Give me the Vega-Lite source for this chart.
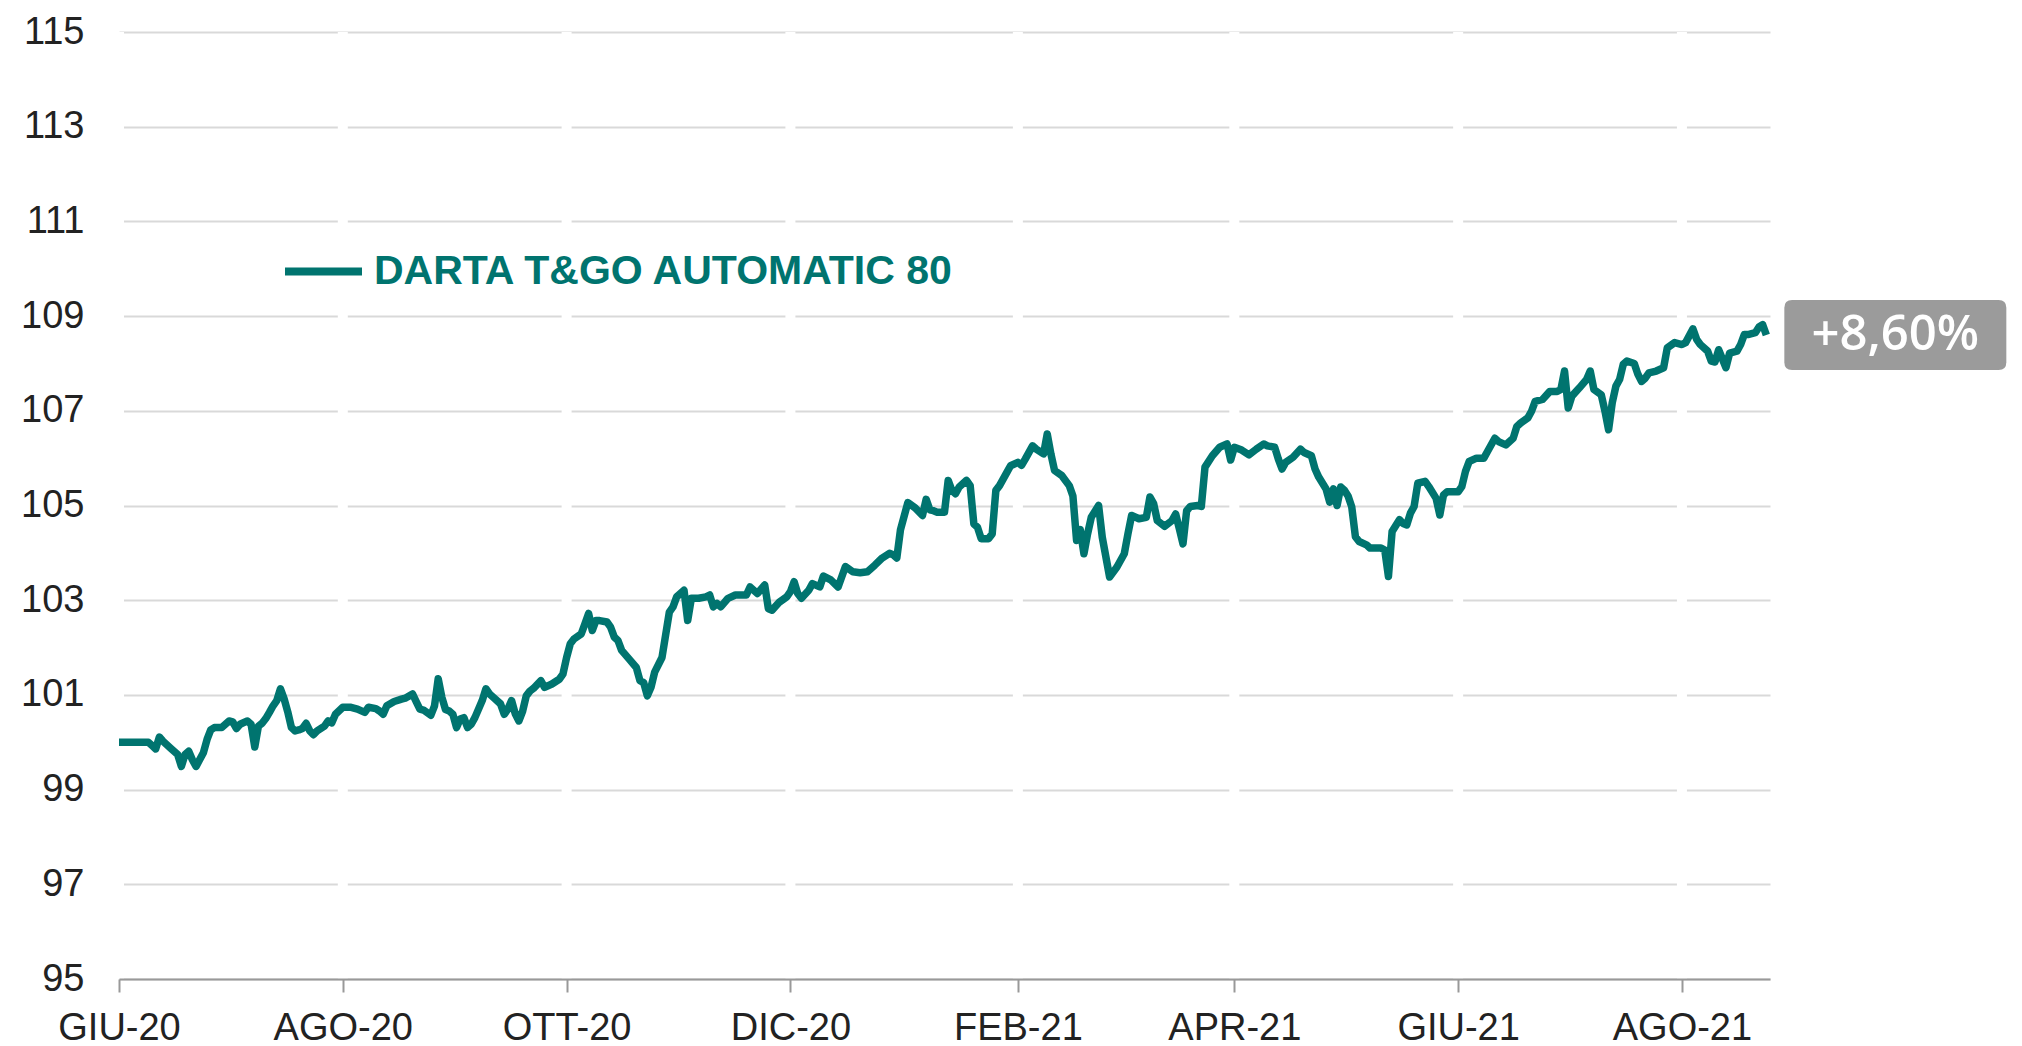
{
 "$schema": "https://vega.github.io/schema/vega-lite/v6.json",
 "width": 1651,
 "height": 947,
 "autosize": {"type": "none"},
 "padding": {"left": 119, "top": 32, "right": 252, "bottom": 67},
 "background": "white",
 "config": {"view": {"stroke": null}, "font": "Liberation Sans"},
 "data": {"values": [
  {"date":"2020-06-01","value":100.0},{"date":"2020-06-09","value":100.0},{"date":"2020-06-10","value":99.93},{"date":"2020-06-11","value":99.86},{"date":"2020-06-12","value":100.11},{"date":"2020-06-13","value":100.02},{"date":"2020-06-15","value":99.88},{"date":"2020-06-16","value":99.81},{"date":"2020-06-17","value":99.74},{"date":"2020-06-18","value":99.49},{"date":"2020-06-19","value":99.74},{"date":"2020-06-20","value":99.81},{"date":"2020-06-21","value":99.63},{"date":"2020-06-22","value":99.49},{"date":"2020-06-24","value":99.78},{"date":"2020-06-25","value":100.06},{"date":"2020-06-26","value":100.26},{"date":"2020-06-27","value":100.31},{"date":"2020-06-29","value":100.31},{"date":"2020-06-30","value":100.38},
  {"date":"2020-07-01","value":100.45},{"date":"2020-07-02","value":100.43},{"date":"2020-07-03","value":100.29},{"date":"2020-07-04","value":100.38},{"date":"2020-07-06","value":100.45},{"date":"2020-07-07","value":100.38},{"date":"2020-07-08","value":99.9},{"date":"2020-07-09","value":100.34},{"date":"2020-07-10","value":100.4},{"date":"2020-07-11","value":100.5},{"date":"2020-07-12","value":100.63},{"date":"2020-07-13","value":100.77},{"date":"2020-07-14","value":100.88},{"date":"2020-07-15","value":101.13},{"date":"2020-07-16","value":100.92},{"date":"2020-07-17","value":100.64},{"date":"2020-07-18","value":100.31},{"date":"2020-07-19","value":100.24},{"date":"2020-07-20","value":100.26},{"date":"2020-07-21","value":100.29},{"date":"2020-07-22","value":100.4},{"date":"2020-07-23","value":100.24},{"date":"2020-07-24","value":100.16},{"date":"2020-07-25","value":100.24},{"date":"2020-07-27","value":100.34},{"date":"2020-07-28","value":100.45},{"date":"2020-07-29","value":100.41},{"date":"2020-07-30","value":100.59},
  {"date":"2020-08-01","value":100.74},{"date":"2020-08-03","value":100.74},{"date":"2020-08-05","value":100.7},{"date":"2020-08-07","value":100.63},{"date":"2020-08-08","value":100.74},{"date":"2020-08-10","value":100.71},{"date":"2020-08-11","value":100.66},{"date":"2020-08-12","value":100.59},{"date":"2020-08-13","value":100.77},{"date":"2020-08-15","value":100.86},{"date":"2020-08-17","value":100.91},{"date":"2020-08-18","value":100.93},{"date":"2020-08-20","value":101.02},{"date":"2020-08-21","value":100.86},{"date":"2020-08-22","value":100.7},{"date":"2020-08-23","value":100.68},{"date":"2020-08-25","value":100.57},{"date":"2020-08-26","value":100.77},{"date":"2020-08-27","value":101.34},{"date":"2020-08-28","value":100.95},{"date":"2020-08-29","value":100.69},{"date":"2020-08-30","value":100.66},{"date":"2020-08-31","value":100.59},
  {"date":"2020-09-01","value":100.31},{"date":"2020-09-02","value":100.49},{"date":"2020-09-03","value":100.52},{"date":"2020-09-04","value":100.31},{"date":"2020-09-05","value":100.38},{"date":"2020-09-06","value":100.52},{"date":"2020-09-08","value":100.88},{"date":"2020-09-09","value":101.13},{"date":"2020-09-10","value":101.02},{"date":"2020-09-11","value":100.95},{"date":"2020-09-13","value":100.81},{"date":"2020-09-14","value":100.59},{"date":"2020-09-15","value":100.7},{"date":"2020-09-16","value":100.88},{"date":"2020-09-17","value":100.6},{"date":"2020-09-18","value":100.45},{"date":"2020-09-19","value":100.65},{"date":"2020-09-20","value":100.98},{"date":"2020-09-21","value":101.08},{"date":"2020-09-22","value":101.14},{"date":"2020-09-24","value":101.3},{"date":"2020-09-25","value":101.16},{"date":"2020-09-27","value":101.23},{"date":"2020-09-29","value":101.33},{"date":"2020-09-30","value":101.44},
  {"date":"2020-10-01","value":101.79},{"date":"2020-10-02","value":102.08},{"date":"2020-10-03","value":102.18},{"date":"2020-10-05","value":102.29},{"date":"2020-10-06","value":102.5},{"date":"2020-10-07","value":102.72},{"date":"2020-10-08","value":102.36},{"date":"2020-10-09","value":102.57},{"date":"2020-10-10","value":102.57},{"date":"2020-10-12","value":102.54},{"date":"2020-10-13","value":102.43},{"date":"2020-10-14","value":102.22},{"date":"2020-10-15","value":102.15},{"date":"2020-10-16","value":101.94},{"date":"2020-10-18","value":101.76},{"date":"2020-10-20","value":101.58},{"date":"2020-10-21","value":101.3},{"date":"2020-10-22","value":101.26},{"date":"2020-10-23","value":100.98},{"date":"2020-10-24","value":101.16},{"date":"2020-10-25","value":101.48},{"date":"2020-10-27","value":101.79},{"date":"2020-10-29","value":102.75},{"date":"2020-10-30","value":102.86},{"date":"2020-10-31","value":103.07},
  {"date":"2020-11-02","value":103.21},{"date":"2020-11-03","value":102.57},{"date":"2020-11-04","value":103.04},{"date":"2020-11-06","value":103.04},{"date":"2020-11-08","value":103.07},{"date":"2020-11-09","value":103.11},{"date":"2020-11-10","value":102.86},{"date":"2020-11-11","value":102.93},{"date":"2020-11-12","value":102.86},{"date":"2020-11-14","value":103.04},{"date":"2020-11-16","value":103.11},{"date":"2020-11-19","value":103.11},{"date":"2020-11-20","value":103.28},{"date":"2020-11-22","value":103.14},{"date":"2020-11-24","value":103.32},{"date":"2020-11-25","value":102.82},{"date":"2020-11-26","value":102.79},{"date":"2020-11-28","value":102.96},{"date":"2020-11-30","value":103.07},
  {"date":"2020-12-01","value":103.18},{"date":"2020-12-02","value":103.39},{"date":"2020-12-03","value":103.14},{"date":"2020-12-04","value":103.04},{"date":"2020-12-06","value":103.21},{"date":"2020-12-07","value":103.35},{"date":"2020-12-09","value":103.28},{"date":"2020-12-10","value":103.51},{"date":"2020-12-12","value":103.43},{"date":"2020-12-14","value":103.28},{"date":"2020-12-16","value":103.71},{"date":"2020-12-18","value":103.6},{"date":"2020-12-20","value":103.58},{"date":"2020-12-22","value":103.6},{"date":"2020-12-24","value":103.74},{"date":"2020-12-26","value":103.89},{"date":"2020-12-28","value":103.99},{"date":"2020-12-29","value":103.96},{"date":"2020-12-30","value":103.89},{"date":"2020-12-31","value":104.49},
  {"date":"2021-01-02","value":105.06},{"date":"2021-01-04","value":104.95},{"date":"2021-01-06","value":104.79},{"date":"2021-01-07","value":105.13},{"date":"2021-01-08","value":104.91},{"date":"2021-01-09","value":104.89},{"date":"2021-01-10","value":104.86},{"date":"2021-01-12","value":104.86},{"date":"2021-01-13","value":105.53},{"date":"2021-01-14","value":105.32},{"date":"2021-01-15","value":105.25},{"date":"2021-01-16","value":105.39},{"date":"2021-01-18","value":105.53},{"date":"2021-01-19","value":105.42},{"date":"2021-01-20","value":104.61},{"date":"2021-01-21","value":104.54},{"date":"2021-01-22","value":104.3},{"date":"2021-01-24","value":104.3},{"date":"2021-01-25","value":104.4},{"date":"2021-01-26","value":105.32},{"date":"2021-01-27","value":105.42},{"date":"2021-01-29","value":105.7},{"date":"2021-01-30","value":105.84},
  {"date":"2021-02-01","value":105.91},{"date":"2021-02-02","value":105.85},{"date":"2021-02-03","value":105.98},{"date":"2021-02-05","value":106.26},{"date":"2021-02-06","value":106.19},{"date":"2021-02-08","value":106.09},{"date":"2021-02-09","value":106.51},{"date":"2021-02-10","value":106.09},{"date":"2021-02-11","value":105.74},{"date":"2021-02-13","value":105.63},{"date":"2021-02-15","value":105.42},{"date":"2021-02-16","value":105.2},{"date":"2021-02-17","value":104.26},{"date":"2021-02-18","value":104.49},{"date":"2021-02-19","value":103.98},{"date":"2021-02-20","value":104.4},{"date":"2021-02-21","value":104.75},{"date":"2021-02-23","value":105.0},{"date":"2021-02-24","value":104.33},{"date":"2021-02-26","value":103.49},{"date":"2021-02-28","value":103.7},
  {"date":"2021-03-02","value":103.98},{"date":"2021-03-03","value":104.4},{"date":"2021-03-04","value":104.79},{"date":"2021-03-06","value":104.72},{"date":"2021-03-08","value":104.75},{"date":"2021-03-09","value":105.18},{"date":"2021-03-10","value":105.04},{"date":"2021-03-11","value":104.68},{"date":"2021-03-13","value":104.56},{"date":"2021-03-15","value":104.68},{"date":"2021-03-16","value":104.82},{"date":"2021-03-17","value":104.51},{"date":"2021-03-18","value":104.19},{"date":"2021-03-19","value":104.89},{"date":"2021-03-20","value":104.98},{"date":"2021-03-22","value":105.0},{"date":"2021-03-23","value":104.98},{"date":"2021-03-24","value":105.81},{"date":"2021-03-26","value":106.05},{"date":"2021-03-28","value":106.23},{"date":"2021-03-30","value":106.3},{"date":"2021-03-31","value":105.96},
  {"date":"2021-04-01","value":106.23},{"date":"2021-04-03","value":106.17},{"date":"2021-04-05","value":106.07},{"date":"2021-04-07","value":106.19},{"date":"2021-04-09","value":106.3},{"date":"2021-04-10","value":106.26},{"date":"2021-04-12","value":106.23},{"date":"2021-04-13","value":105.98},{"date":"2021-04-14","value":105.77},{"date":"2021-04-15","value":105.91},{"date":"2021-04-17","value":106.02},{"date":"2021-04-19","value":106.19},{"date":"2021-04-20","value":106.12},{"date":"2021-04-22","value":106.05},{"date":"2021-04-23","value":105.77},{"date":"2021-04-24","value":105.6},{"date":"2021-04-26","value":105.35},{"date":"2021-04-27","value":105.07},{"date":"2021-04-28","value":105.35},{"date":"2021-04-29","value":105.0},{"date":"2021-04-30","value":105.39},
  {"date":"2021-05-01","value":105.32},{"date":"2021-05-02","value":105.2},{"date":"2021-05-03","value":104.97},{"date":"2021-05-04","value":104.34},{"date":"2021-05-05","value":104.24},{"date":"2021-05-07","value":104.17},{"date":"2021-05-08","value":104.1},{"date":"2021-05-11","value":104.1},{"date":"2021-05-12","value":104.06},{"date":"2021-05-13","value":103.5},{"date":"2021-05-14","value":104.45},{"date":"2021-05-16","value":104.7},{"date":"2021-05-17","value":104.62},{"date":"2021-05-18","value":104.59},{"date":"2021-05-19","value":104.84},{"date":"2021-05-20","value":104.98},{"date":"2021-05-21","value":105.47},{"date":"2021-05-23","value":105.51},{"date":"2021-05-24","value":105.4},{"date":"2021-05-26","value":105.15},{"date":"2021-05-27","value":104.8},{"date":"2021-05-28","value":105.22},{"date":"2021-05-29","value":105.29},
  {"date":"2021-06-01","value":105.29},{"date":"2021-06-02","value":105.4},{"date":"2021-06-03","value":105.72},{"date":"2021-06-04","value":105.93},{"date":"2021-06-06","value":106.0},{"date":"2021-06-08","value":106.0},{"date":"2021-06-09","value":106.14},{"date":"2021-06-11","value":106.42},{"date":"2021-06-12","value":106.35},{"date":"2021-06-14","value":106.28},{"date":"2021-06-16","value":106.42},{"date":"2021-06-17","value":106.67},{"date":"2021-06-18","value":106.74},{"date":"2021-06-20","value":106.85},{"date":"2021-06-21","value":106.99},{"date":"2021-06-22","value":107.2},{"date":"2021-06-24","value":107.24},{"date":"2021-06-26","value":107.41},{"date":"2021-06-28","value":107.41},{"date":"2021-06-29","value":107.45},{"date":"2021-06-30","value":107.84},
  {"date":"2021-07-01","value":107.06},{"date":"2021-07-02","value":107.31},{"date":"2021-07-04","value":107.48},{"date":"2021-07-06","value":107.66},{"date":"2021-07-07","value":107.84},{"date":"2021-07-08","value":107.45},{"date":"2021-07-10","value":107.34},{"date":"2021-07-11","value":107.0},{"date":"2021-07-12","value":106.6},{"date":"2021-07-13","value":107.17},{"date":"2021-07-14","value":107.52},{"date":"2021-07-15","value":107.66},{"date":"2021-07-16","value":107.98},{"date":"2021-07-17","value":108.05},{"date":"2021-07-19","value":108.0},{"date":"2021-07-20","value":107.77},{"date":"2021-07-21","value":107.62},{"date":"2021-07-22","value":107.69},{"date":"2021-07-23","value":107.8},{"date":"2021-07-25","value":107.84},{"date":"2021-07-27","value":107.91},{"date":"2021-07-28","value":108.33},{"date":"2021-07-30","value":108.44},
  {"date":"2021-08-01","value":108.4},{"date":"2021-08-02","value":108.44},{"date":"2021-08-04","value":108.73},{"date":"2021-08-05","value":108.51},{"date":"2021-08-06","value":108.4},{"date":"2021-08-08","value":108.26},{"date":"2021-08-09","value":108.05},{"date":"2021-08-10","value":108.03},{"date":"2021-08-11","value":108.29},{"date":"2021-08-12","value":108.1},{"date":"2021-08-13","value":107.91},{"date":"2021-08-14","value":108.22},{"date":"2021-08-16","value":108.26},{"date":"2021-08-17","value":108.4},{"date":"2021-08-18","value":108.61},{"date":"2021-08-19","value":108.61},{"date":"2021-08-21","value":108.65},{"date":"2021-08-22","value":108.77},{"date":"2021-08-23","value":108.82},{"date":"2021-08-24","value":108.6}
 ]},
 "layer": [
  {
   "data": {"values": [{"date":"2020-06-01"},{"date":"2020-08-01"},{"date":"2020-10-01"},{"date":"2020-12-01"},{"date":"2021-02-01"},{"date":"2021-04-01"},{"date":"2021-06-01"},{"date":"2021-08-01"}]},
   "mark": {"type": "rule", "color": "white", "strokeWidth": 10},
   "encoding": {"x": {"field": "date", "type": "temporal"}}
  },
  {
   "mark": {"type": "line", "strokeWidth": 7.5, "strokeJoin": "round", "color": "#00746F"},
   "encoding": {
    "x": {
     "field": "date", "type": "temporal",
     "scale": {"type": "utc", "domain": [{"year": 2020, "month": 6, "date": 1, "utc": true}, {"year": 2021, "month": 8, "date": 25, "utc": true}]},
     "axis": {
      "values": [
       {"year": 2020, "month": 6, "date": 1, "utc": true},
       {"year": 2020, "month": 8, "date": 1, "utc": true},
       {"year": 2020, "month": 10, "date": 1, "utc": true},
       {"year": 2020, "month": 12, "date": 1, "utc": true},
       {"year": 2021, "month": 2, "date": 1, "utc": true},
       {"year": 2021, "month": 4, "date": 1, "utc": true},
       {"year": 2021, "month": 6, "date": 1, "utc": true},
       {"year": 2021, "month": 8, "date": 1, "utc": true}
      ],
      "labelExpr": "['GEN','FEB','MAR','APR','MAG','GIU','LUG','AGO','SET','OTT','NOV','DIC'][utcmonth(datum.value)] + '-' + utcFormat(datum.value, '%y')",
      "title": null, "grid": false,
      "domainColor": "#999999", "domainWidth": 2,
      "tickColor": "#999999", "tickWidth": 2, "tickSize": 13,
      "labelFont": "Liberation Sans", "labelFontSize": 38, "labelColor": "#222222",
      "labelPadding": 17, "labelFlush": false, "labelOverlap": false, "zindex": 1
     }
    },
    "y": {
     "field": "value", "type": "quantitative",
     "scale": {"domain": [95, 115], "nice": false, "zero": false},
     "axis": {
      "values": [95, 97, 99, 101, 103, 105, 107, 109, 111, 113, 115],
      "title": null, "grid": true, "gridColor": "#d9d9d9", "gridWidth": 2,
      "domain": false, "ticks": false,
      "labelFont": "Liberation Sans", "labelFontSize": 38, "labelColor": "#222222",
      "labelPadding": 35, "zindex": 0
     }
    },
    "color": {
     "datum": "DARTA T&GO AUTOMATIC 80",
     "scale": {"range": ["#00746F"]},
     "legend": {
      "orient": "none", "legendX": 162, "legendY": 197, "title": null, "padding": 0,
      "symbolType": "stroke", "symbolSize": 5929, "symbolStrokeWidth": 8,
      "labelFont": "Liberation Sans", "labelFontSize": 41, "labelFontWeight": "bold",
      "labelColor": "#00746F", "labelOffset": 8, "labelLimit": 0
     }
    }
   }
  },
  {
   "data": {"values": [{"date": "2021-08-24", "value": 108.6, "label": "+8,60%"}]},
   "mark": {"type": "point", "shape": "M-0.93,-0.315H0.93Q1,-0.315,1,-0.245V0.245Q1,0.315,0.93,0.315H-0.93Q-1,0.315,-1,0.245V-0.245Q-1,-0.315,-0.93,-0.315Z", "size": 49284, "filled": true, "color": "#9b9b9b", "opacity": 1, "strokeWidth": 0, "xOffset": 129},
   "encoding": {"x": {"field": "date", "type": "temporal"}, "y": {"field": "value", "type": "quantitative"}}
  },
  {
   "data": {"values": [{"date": "2021-08-24", "value": 108.6, "label": "+8,60%"}]},
   "mark": {"type": "text", "font": "Open Sans", "fontSize": 49, "fontWeight": 600, "color": "white", "align": "center", "baseline": "middle", "xOffset": 129},
   "encoding": {"x": {"field": "date", "type": "temporal"}, "y": {"field": "value", "type": "quantitative"}, "text": {"field": "label"}}
  }
 ]
}
